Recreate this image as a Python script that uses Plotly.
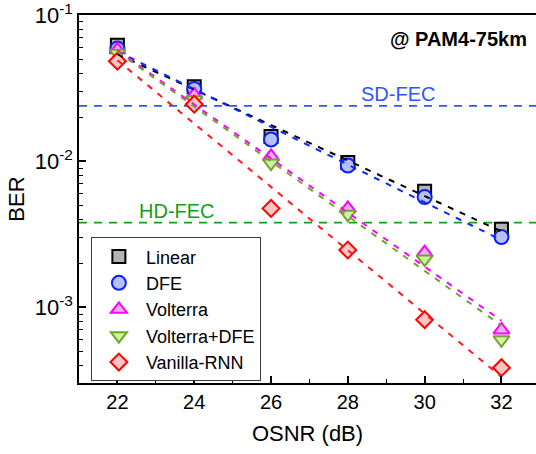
import math
import plotly.graph_objects as go

# OSNR sweep (dB)
osnr = [22, 24, 26, 28, 30, 32]

# Measured BER for each equalizer
ber_linear = [0.0624, 0.0324, 0.0148, 0.0098, 0.00624, 0.00342]
ber_dfe = [0.0592, 0.0313, 0.0141, 0.00935, 0.00569, 0.00303]
ber_volterra = [0.058, 0.0285, 0.0108, 0.00476, 0.00237, 0.000701]
ber_volterra_dfe = [0.055, 0.0264, 0.00973, 0.00434, 0.00214, 0.0006]
ber_rnn = [0.0485, 0.0246, 0.00476, 0.00247, 0.000824, 0.000386]

# Exponential fit lines (BER at the first and last OSNR point)
fit_osnr = [22, 32]
fit_linear = [0.0542, 0.00331]
fit_dfe = [0.0566, 0.00289]
fit_volterra = [0.0575, 0.00081]
fit_volterra_dfe = [0.0563, 0.00075]
fit_rnn = [0.0492, 0.000334]

# FEC thresholds
sd_fec = 0.024
hd_fec = 0.0038

series = [
    ("Linear", ber_linear, fit_linear, "square", 13, "#b4b4b4", "#000000", "#000000"),
    ("DFE", ber_dfe, fit_dfe, "circle", 14, "#b7c0fd", "#0a1eff", "#0a28ff"),
    ("Volterra", ber_volterra, fit_volterra, "triangle-up", 14, "#eeb2f2", "#ff00ff", "#ff00ff"),
    ("Volterra+DFE", ber_volterra_dfe, fit_volterra_dfe, "triangle-down", 14, "#d2f0a6", "#6ea52c", "#6ea52c"),
    ("Vanilla-RNN", ber_rnn, fit_rnn, "diamond", 13, "#ffc4c4", "#ff0000", "#ff1a1a"),
]

FONT = "Liberation Sans, Arial, sans-serif"
SD_COLOR = "#2f55ff"
HD_COLOR = "#14a014"
fig = go.Figure()

# FEC threshold lines across the full width
fig.add_hline(y=sd_fec, line=dict(color=SD_COLOR, width=1.8, dash="8px,7px"), layer="below")
fig.add_hline(y=hd_fec, line=dict(color=HD_COLOR, width=1.8, dash="8px,7px"), layer="below")

for name, ber, fit, sym, size, fill, edge, lc in series:
    fig.add_trace(go.Scatter(
        x=osnr, y=ber, mode="markers", name=name,
        marker=dict(symbol=sym, size=size, color=fill,
                    line=dict(color=edge, width=2)),
    ))

for name, ber, fit, sym, size, fill, edge, lc in series:
    fig.add_trace(go.Scatter(
        x=fit_osnr, y=fit, mode="lines", showlegend=False,
        line=dict(color=lc, width=2, dash="6px,7px"),
        hoverinfo="skip",
    ))

# Threshold labels (annotation y on a log axis is given as log10)
fig.add_annotation(x=29.3, y=math.log10(sd_fec), xref="x", yref="y", text="SD-FEC",
                   showarrow=False, yanchor="bottom", yshift=-1,
                   font=dict(family=FONT, size=20, color=SD_COLOR))
fig.add_annotation(x=23.55, y=math.log10(hd_fec), xref="x", yref="y", text="HD-FEC",
                   showarrow=False, yanchor="bottom", yshift=-1,
                   font=dict(family=FONT, size=20, color=HD_COLOR))
fig.add_annotation(x=0.985, y=0.97, xref="paper", yref="paper", text="<b>@ PAM4-75km</b>",
                   showarrow=False, xanchor="right", yanchor="top",
                   font=dict(family=FONT, size=20, color="#000000"))

fig.update_layout(
    width=536, height=454,
    margin=dict(l=79, r=0, t=13, b=71),
    plot_bgcolor="white", paper_bgcolor="white",
    font=dict(family=FONT, size=20, color="#000000"),
    showlegend=True,
    legend=dict(
        x=0.026, y=0.396, xanchor="left", yanchor="top",
        bgcolor="white", bordercolor="#3c3c3c", borderwidth=1,
        font=dict(family=FONT, size=18, color="#000000"),
        itemwidth=44, tracegroupgap=0,
    ),
    xaxis=dict(
        range=[21, 32.9], tickvals=[22, 24, 26, 28, 30, 32],
        ticks="inside", ticklen=7, tickwidth=1.5, tickcolor="#000000",
        minor=dict(tickvals=[23, 25, 27, 29, 31], ticks="inside", ticklen=4,
                   tickwidth=1.2, tickcolor="#000000", showgrid=False),
        showline=True, linecolor="#000000", linewidth=1.5, mirror=True,
        showgrid=False, zeroline=False,
        tickfont=dict(family=FONT, size=20),
        title=dict(text="OSNR (dB)", font=dict(family=FONT, size=22), standoff=14),
    ),
    yaxis=dict(
        type="log", range=[-3.518, -0.998],
        tickvals=[1e-3, 1e-2, 1e-1],
        ticktext=["10<sup>-3</sup>", "10<sup>-2</sup>", "10<sup>-1</sup>"],
        ticklabeloverflow="allow",
        ticks="inside", ticklen=7, tickwidth=1.5, tickcolor="#000000",
        minor=dict(dtick="D1", ticks="inside", ticklen=4, tickwidth=1.2,
                   tickcolor="#000000", showgrid=False),
        showline=True, linecolor="#000000", linewidth=1.5,
        showgrid=False, zeroline=False,
        tickfont=dict(family=FONT, size=22),
        title=dict(text="BER", font=dict(family=FONT, size=22), standoff=4),
    ),
)

fig.write_html("out.html")
